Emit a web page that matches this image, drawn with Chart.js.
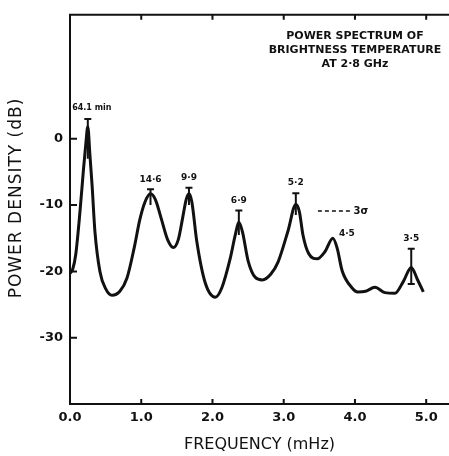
<!DOCTYPE html>
<html>
<head>
<meta charset="utf-8">
<script src="https://cdn.jsdelivr.net/npm/chart.js@4.4.0/dist/chart.umd.min.js"></script>
<style>
  html, body { margin: 0; padding: 0; background: #fff; }
  canvas { display: block; }
</style>
</head>
<body>
<canvas id="spec" width="449" height="456"></canvas>
<script>
// spectrum (frequency in mHz, power density in dB)
const freq  = [0.00, 0.04, 0.08, 0.14, 0.19, 0.22, 0.25, 0.28, 0.31, 0.35, 0.42, 0.50, 0.59, 0.70, 0.80, 0.90, 0.98,
               1.05, 1.13, 1.20, 1.28, 1.37, 1.45, 1.52, 1.58, 1.63, 1.67, 1.71, 1.78, 1.90, 2.04, 2.13, 2.25, 2.32,
               2.37, 2.42, 2.50, 2.60, 2.70, 2.82, 2.92, 3.06, 3.17, 3.22, 3.27, 3.35, 3.47, 3.58, 3.69, 3.75, 3.82,
               3.96, 4.04, 4.15, 4.28, 4.42, 4.56, 4.68, 4.79, 4.88, 4.96];
const power = [-20.3, -19.6, -17.5, -11.0, -4.5, -1.0, 1.8, -2.5, -7.0, -14.0, -20.0, -22.6, -23.6, -23.0, -21.0, -16.5, -12.2,
               -9.6, -8.3, -9.2, -12.0, -15.2, -16.4, -15.2, -12.0, -9.2, -8.3, -9.5, -15.5, -21.8, -23.9, -22.5, -18.0, -14.5,
               -12.6, -14.0, -18.4, -20.9, -21.3, -20.4, -18.6, -13.9, -9.9, -11.0, -14.5, -17.3, -18.1, -17.0, -15.0, -16.5, -19.9,
               -22.5, -23.1, -23.0, -22.4, -23.2, -23.3, -21.5, -19.4, -21.3, -23.1];

// labelled peaks and their 3-sigma bars
const peakFreq  = [0.25, 1.13, 1.67, 2.37, 3.17, 3.69, 4.79];
const peakLabel = ['64.1 min', '14·6', '9·9', '6·9', '5·2', '4·5', '3·5'];
const errHi     = [3.0, -7.6, -7.4, -10.8, -8.2, null, -16.6];
const errLo     = [-3.0, -10.0, -10.0, -14.5, -11.5, null, -21.9];
const errLoCap  = [false, false, false, false, false, false, true];

const xTicks = [0, 1, 2, 3, 4, 5];
const yTicks = [0, -10, -20, -30];

const titleLines = ['POWER SPECTRUM OF', 'BRIGHTNESS TEMPERATURE', 'AT 2·8 GHz'];

const INK = '#111';

const errSets = peakFreq.map((f, i) => errHi[i] == null ? null : {
    data: [{x: f, y: errLo[i]}, {x: f, y: errHi[i]}],
    borderColor: INK, borderWidth: 2,
    pointStyle: 'line', pointRadius: [errLoCap[i] ? 3.5 : 0, 3.5],
    pointBorderWidth: 2, pointBorderColor: INK, pointBackgroundColor: INK,
    fill: false
}).filter(Boolean);

// frame, inward ticks, annotations
const decor = {
    id: 'decor',
    afterDraw(chart) {
        const {ctx, chartArea: a, scales: {x, y}} = chart;
        ctx.save();
        ctx.strokeStyle = INK;
        ctx.fillStyle = INK;
        ctx.lineWidth = 2;

        ctx.beginPath();
        ctx.moveTo(a.left - 1, a.top);
        ctx.lineTo(a.right, a.top);
        xTicks.slice(1).forEach(v => {
            const px = x.getPixelForValue(v);
            ctx.moveTo(px, a.bottom); ctx.lineTo(px, a.bottom - 5);
            ctx.moveTo(px, a.top); ctx.lineTo(px, a.top + 5);
        });
        yTicks.forEach(v => {
            const py = y.getPixelForValue(v);
            ctx.moveTo(a.left, py); ctx.lineTo(a.left + 7, py);
        });
        ctx.stroke();

        // peak period labels
        ctx.textAlign = 'center';
        ctx.textBaseline = 'middle';
        peakFreq.forEach((f, i) => {
            const px = x.getPixelForValue(f);
            if (errHi[i] == null) {
                const py = y.getPixelForValue(power[freq.indexOf(f)]);
                ctx.font = 'bold 9px "DejaVu Sans"';
                ctx.fillText(peakLabel[i], px + 14, py - 5);
                return;
            }
            const py = y.getPixelForValue(errHi[i]);
            if (i === 0) {
                ctx.font = 'bold 8px "DejaVu Sans"';
                ctx.fillText(peakLabel[i], px + 4, py - 11);
            } else {
                ctx.font = 'bold 9px "DejaVu Sans"';
                ctx.fillText(peakLabel[i], px, py - 10);
            }
        });

        // 3 sigma key
        const ky = y.getPixelForValue(-10.9);
        ctx.lineWidth = 1.5;
        ctx.setLineDash([4, 3]);
        ctx.beginPath();
        ctx.moveTo(x.getPixelForValue(3.48), ky);
        ctx.lineTo(x.getPixelForValue(3.95), ky);
        ctx.stroke();
        ctx.setLineDash([]);
        ctx.textAlign = 'left';
        ctx.font = 'bold 10px "DejaVu Sans"';
        ctx.fillText('3σ', x.getPixelForValue(3.98), ky);

        // title block
        ctx.textAlign = 'center';
        ctx.font = 'bold 11px "DejaVu Sans"';
        titleLines.forEach((t, i) => ctx.fillText(t, 355, 36 + i * 14));

        // y axis title
        ctx.save();
        ctx.translate(17, 198);
        ctx.rotate(-Math.PI / 2);
        ctx.font = '17px "DejaVu Sans"';
        ctx.letterSpacing = '1px';
        ctx.fillText('POWER DENSITY (dB)', 0, 0);
        ctx.restore();

        ctx.restore();
    }
};

new Chart(document.getElementById('spec'), {
    type: 'line',
    data: {
        datasets: [{
            data: freq.map((f, i) => ({x: f, y: power[i]})),
            borderColor: INK, borderWidth: 3,
            pointRadius: 0, fill: false,
            cubicInterpolationMode: 'monotone'
        }, ...errSets]
    },
    options: {
        responsive: false,
        animation: false,
        layout: { autoPadding: false, padding: { top: 10, right: 0, left: 0, bottom: 0 } },
        plugins: { legend: { display: false }, tooltip: { enabled: false } },
        scales: {
            x: {
                type: 'linear', min: 0, max: 5.32,
                afterBuildTicks: s => { s.ticks = xTicks.map(v => ({value: v})); },
                afterFit: s => { s.height = 52; s.paddingLeft = 0; s.paddingRight = 0; },
                grid: { display: false, drawTicks: false },
                border: { display: true, color: INK, width: 2 },
                ticks: { color: INK, font: { family: 'DejaVu Sans', size: 13, weight: 'bold' }, padding: 6,
                         maxRotation: 0, callback: v => v.toFixed(1) },
                title: { display: true, text: 'FREQUENCY (mHz)', color: INK,
                         font: { family: 'DejaVu Sans', size: 16 }, padding: { top: 0, bottom: 2 } }
            },
            y: {
                min: -40, max: 18.7,
                afterBuildTicks: s => { s.ticks = yTicks.map(v => ({value: v})); },
                afterFit: s => { s.width = 70; },
                grid: { display: false, drawTicks: false },
                border: { display: true, color: INK, width: 2 },
                ticks: { color: INK, font: { family: 'DejaVu Sans', size: 13, weight: 'bold' }, padding: 7,
                         callback: v => String(v) }
            }
        }
    },
    plugins: [decor]
});
</script>
</body>
</html>
